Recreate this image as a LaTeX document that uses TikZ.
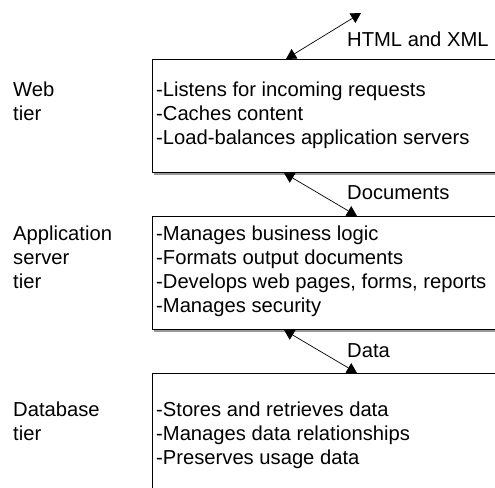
\documentclass[tikz,border=0pt]{standalone}
\usepackage{fontspec}
\setmainfont{Liberation Sans}
\usetikzlibrary{arrows.meta,shadows}
\begin{document}
\begin{tikzpicture}[x=1pt,y=-1pt,every node/.style={font=\fontsize{20.2}{24}\selectfont,inner sep=0pt}]

\tikzstyle{tier}=[draw,line width=0.9pt,minimum width=400pt,anchor=north west,fill=white,drop shadow={shadow xshift=2pt,shadow yshift=-3pt,fill=black!40,opacity=1}];
\tikzstyle{list}=[align=left,anchor=north west];
\tikzstyle{link}=[{Triangle[width=11pt,length=10pt]}-{Triangle[width=11pt,length=10pt]},line width=0.7pt];

\useasboundingbox (0,0) rectangle (495,487);

% the three tiers
\node[tier,minimum height=113pt] (v2) at (152,59) {};
\node[tier,minimum height=113pt] (v4) at (152,216) {};
\node[tier,minimum height=140pt] (v6) at (152,373) {};

\node[list] (v1) at (13,81.5) {Web\\tier};
\node[list] (v2r) at (156,81.5) {-Listens for incoming requests\\-Caches content\\-Load-balances application servers};
\node[list] (v3) at (13,225.5) {Application\\server\\tier};
\node[list] (v4r) at (156,225.5) {-Manages business logic\\-Formats output documents\\-Develops web pages, forms, reports\\-Manages security};
\node[list] (v5) at (13,401.5) {Database\\tier};
\node[list] (v6r) at (156,401.5) {-Stores and retrieves data\\-Manages data relationships\\-Preserves usage data};

% connectors
\coordinate (v7) at (361,13);
\node[anchor=base west] (v7l) at (347,47) {HTML and XML};
\node[anchor=base west] (v8l) at (347,199) {Documents};
\node[anchor=base west] (v9l) at (347,357) {Data};

\draw[link] ([xshift=134pt]v2.north west) -- (v7);
\draw[link] ([xshift=132pt]v2.south west) -- ([xshift=205pt]v4.north west);
\draw[link] ([xshift=132pt]v4.south west) -- ([xshift=205pt]v6.north west);
\end{tikzpicture}
\end{document}
